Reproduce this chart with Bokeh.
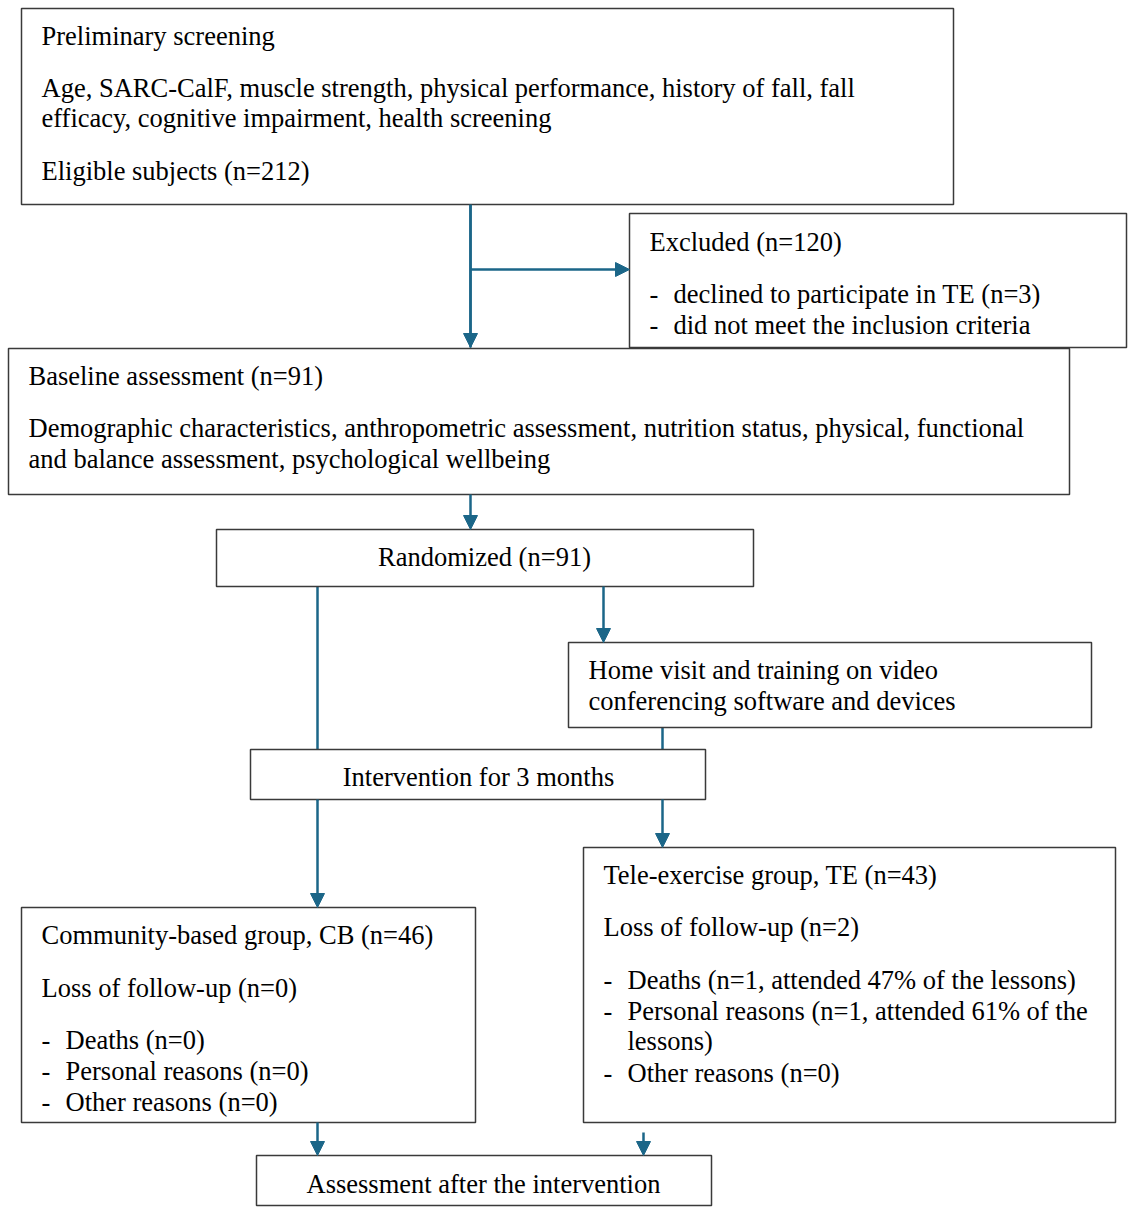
from bokeh.plotting import figure
from bokeh.models import Range1d, ColumnDataSource, Arrow, NormalHead
from bokeh.core.properties import value
from bokeh.embed import file_html
from bokeh.resources import INLINE

# ---- content ----
screen_lines = ["Preliminary screening",
                "Age, SARC-CalF, muscle strength, physical performance, history of fall, fall",
                "efficacy, cognitive impairment, health screening",
                "Eligible subjects (n=212)"]
excluded_lines = ["Excluded (n=120)",
                  "declined to participate in TE (n=3)",
                  "did not meet the inclusion criteria"]
baseline_lines = ["Baseline assessment (n=91)",
                  "Demographic characteristics, anthropometric assessment, nutrition status, physical, functional",
                  "and balance assessment, psychological wellbeing"]
random_label = "Randomized (n=91)"
home_lines = ["Home visit and training on video", "conferencing software and devices"]
interv_label = "Intervention for 3 months"
te_lines = ["Tele-exercise group, TE (n=43)", "Loss of follow-up (n=2)",
            "Deaths (n=1, attended 47% of the lessons)",
            "Personal reasons (n=1, attended 61% of the", "lessons)",
            "Other reasons (n=0)"]
cb_lines = ["Community-based group, CB (n=46)", "Loss of follow-up (n=0)",
            "Deaths (n=0)", "Personal reasons (n=0)", "Other reasons (n=0)"]
assess_label = "Assessment after the intervention"

# ---- layout (reference pixel coordinates) ----
box_l = [21, 629, 8, 216, 568, 250, 583, 21, 256]
box_r = [953, 1126, 1069, 753, 1091, 705, 1115, 475, 711]
box_t = [8, 213, 348, 529, 642, 749, 847, 907, 1155]
box_b = [204, 347, 494, 586, 727, 799, 1122, 1122, 1205]

ARROW = "#1b6688"
BORDER = "#3a3a3a"
FONT = value("Liberation Serif")
FS = "26.5px"

p = figure(width=1128, height=1207, x_range=Range1d(0, 1128), y_range=Range1d(1207, 0),
           output_backend="svg", toolbar_location=None, min_border=0)
p.axis.visible = False
p.grid.visible = False
p.outline_line_color = None
p.background_fill_color = "white"
p.border_fill_color = "white"

# connector lines (no heads)
seg = ColumnDataSource(dict(x0=[470, 317, 662, 317], y0=[204, 586, 727, 799],
                            x1=[470, 317, 662, 317], y1=[347, 749, 749, 800]))
p.segment("x0", "y0", "x1", "y1", source=seg, line_color=ARROW, line_width=2.5)

# arrows
arr = ColumnDataSource(dict(
    xs=[470, 470, 470, 603, 317, 662, 317, 643],
    ys=[204, 269, 494, 586, 799, 799, 1122, 1132],
    xe=[470, 629, 470, 603, 317, 662, 317, 643],
    ye=[347, 269, 529, 642, 907, 847, 1155, 1155]))
p.add_layout(Arrow(end=NormalHead(size=14, fill_color=ARROW, line_color=ARROW),
                   x_start="xs", y_start="ys", x_end="xe", y_end="ye",
                   source=arr, line_color=ARROW, line_width=2.5))

# boxes
p.quad(left=box_l, right=box_r, top=box_t, bottom=box_b,
       fill_color="white", line_color=BORDER, line_width=1.5)

# left-aligned texts
tx, ty, tt = [], [], []
def add(lines, x, ys):
    for s, y in zip(lines, ys):
        tx.append(x); ty.append(y); tt.append(s)

add(screen_lines, 41, [35, 87, 117, 170])
add(excluded_lines[:1], 649, [241])
add(excluded_lines[1:], 673, [293, 324])
add(["-", "-"], 649, [293, 324])
add(baseline_lines, 28, [375, 427, 458])
add(home_lines, 588, [669, 700])
add(te_lines[:2], 603, [874, 926])
add(te_lines[2:], 627, [979, 1010, 1040, 1072])
add(["-", "-", "-"], 603, [979, 1010, 1072])
add(cb_lines[:2], 41, [934, 987])
add(cb_lines[2:], 65, [1039, 1070, 1101])
add(["-", "-", "-"], 41, [1039, 1070, 1101])

p.text(x=tx, y=ty, text=tt, text_font=FONT, text_font_size=FS,
       text_baseline="middle", text_align="left", text_color="black")

# centered texts
p.text(x=[484, 478, 483], y=[556, 776, 1183], text=[random_label, interv_label, assess_label],
       text_font=FONT, text_font_size=FS, text_baseline="middle", text_align="center",
       text_color="black")

open("out.html", "w").write(file_html(p, INLINE))
